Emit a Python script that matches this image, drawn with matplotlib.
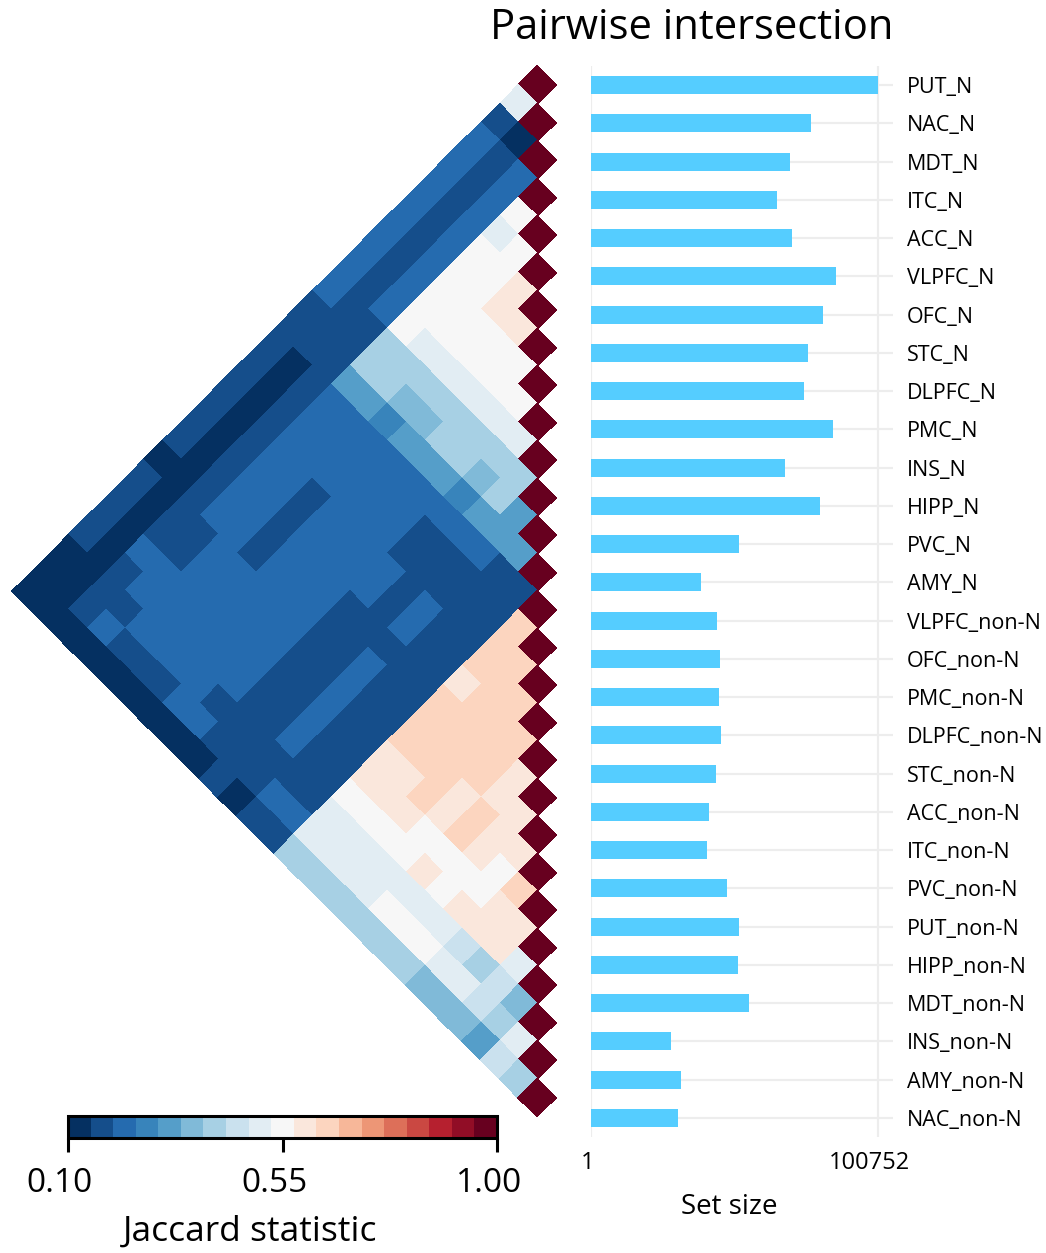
import numpy as np
import matplotlib
matplotlib.use("Agg")
import matplotlib.pyplot as plt
from matplotlib import transforms
from matplotlib.colors import Normalize

plt.rcParams["font.family"] = ["Open Sans", "DejaVu Sans"]

labels = ["PUT_N", "NAC_N", "MDT_N", "ITC_N", "ACC_N", "VLPFC_N", "OFC_N",
          "STC_N", "DLPFC_N", "PMC_N", "INS_N", "HIPP_N", "PVC_N", "AMY_N",
          "VLPFC_non-N", "OFC_non-N", "PMC_non-N", "DLPFC_non-N", "STC_non-N",
          "ACC_non-N", "ITC_non-N", "PVC_non-N", "PUT_non-N", "HIPP_non-N",
          "MDT_non-N", "INS_non-N", "AMY_non-N", "NAC_non-N"]

set_size = [100752, 77230, 69860, 65300, 70560, 86010, 81440, 76180, 74770,
            84950, 68100, 80390, 51960, 38620, 44230, 45290, 45100, 45640,
            43880, 41420, 40720, 47740, 51960, 51600, 55470, 28090, 31590, 30540]

# Jaccard statistic, row i holds the pairs (i, j) for j = i+1 .. 27
jaccard_rows = [
    [0.50, 0.17, 0.22, 0.22, 0.22, 0.22, 0.22, 0.22, 0.22, 0.22, 0.22, 0.17, 0.17,
     0.17, 0.17, 0.17, 0.17, 0.17, 0.17, 0.12, 0.17, 0.17, 0.17, 0.17, 0.12, 0.12, 0.12],
    [0.12] + [0.17] * 11 + [0.12] * 14,
    [0.22] * 8 + [0.17] * 3 +
    [0.17, 0.17, 0.17, 0.17, 0.17, 0.17, 0.17, 0.17, 0.17, 0.22, 0.17, 0.17, 0.17, 0.12],
    [0.55, 0.50, 0.55, 0.55, 0.55, 0.55, 0.55, 0.41, 0.41, 0.31,
     0.22, 0.22, 0.22, 0.22, 0.22, 0.22, 0.22, 0.17, 0.17, 0.22, 0.22, 0.17, 0.22, 0.12],
    [0.55, 0.55, 0.55, 0.55, 0.55, 0.50, 0.41, 0.41, 0.31] + [0.22] * 12 + [0.17, 0.12],
    [0.60, 0.60, 0.55, 0.55, 0.50, 0.41, 0.36, 0.27,
     0.22, 0.22, 0.22, 0.17, 0.17, 0.17, 0.17, 0.22, 0.22, 0.22, 0.22, 0.22, 0.17, 0.12],
    [0.60, 0.55, 0.55, 0.50, 0.41, 0.36, 0.31] + [0.22] * 12 + [0.17, 0.12],
    [0.55, 0.55, 0.50, 0.41, 0.41, 0.31] + [0.22] * 13 + [0.12],
    [0.55, 0.50, 0.41, 0.41, 0.31] + [0.22] * 11 + [0.17, 0.22, 0.12],
    [0.50, 0.41, 0.36, 0.27,
     0.22, 0.17, 0.17, 0.22, 0.22, 0.17, 0.17, 0.17, 0.17, 0.17, 0.17, 0.17, 0.17, 0.12],
    [0.41, 0.41, 0.31, 0.22] + [0.17] * 13,
    [0.31, 0.31,
     0.22, 0.17, 0.17, 0.22, 0.22, 0.17, 0.22, 0.22, 0.22, 0.22, 0.22, 0.17, 0.17, 0.12],
    [0.31] + [0.17] * 12 + [0.22, 0.17],
    [0.17] * 12 + [0.22, 0.17],
    [0.64, 0.64, 0.64, 0.60, 0.64, 0.64, 0.64, 0.60, 0.60, 0.55, 0.50, 0.50, 0.41],
    [0.64, 0.64, 0.64, 0.64, 0.64, 0.64, 0.60, 0.60, 0.55, 0.50, 0.50, 0.41],
    [0.64, 0.64, 0.64, 0.64, 0.64, 0.64, 0.60, 0.55, 0.50, 0.50, 0.41],
    [0.64, 0.64, 0.64, 0.60, 0.60, 0.55, 0.55, 0.50, 0.50, 0.41],
    [0.60, 0.60, 0.64, 0.64, 0.55, 0.60, 0.50, 0.55, 0.41],
    [0.60, 0.60, 0.60, 0.55, 0.55, 0.50, 0.55, 0.41],
    [0.60, 0.55, 0.55, 0.60, 0.50, 0.55, 0.41],
    [0.64, 0.60, 0.60, 0.46, 0.50, 0.36],
    [0.60, 0.60, 0.41, 0.50, 0.36],
    [0.50, 0.46, 0.46, 0.36],
    [0.36, 0.41, 0.31],
    [0.50, 0.46],
    [0.41],
]

n = len(labels)
jac = np.full((n, n), np.nan)
np.fill_diagonal(jac, 1.0)
for i, row in enumerate(jaccard_rows):
    jac[i, i + 1:] = row

W, H = 1046, 1253
fig = plt.figure(figsize=(W / 100, H / 100), dpi=100)

cmap = plt.get_cmap("RdBu_r").resampled(19)
norm = Normalize(vmin=0.1, vmax=1.0)

# heatmap, rotated 45 degrees so the diagonal stands on the right
ax_h = fig.add_axes([0, 1 - 1125 / H, 560 / W, 1065 / H])
a, b = np.meshgrid(np.arange(n + 1), np.arange(n + 1), indexing="ij")
X = (a - b) * 0.5
Y = (a + b) * 0.5
ax_h.pcolormesh(X, Y, np.ma.masked_invalid(jac), cmap=cmap, norm=norm,
                edgecolors="face", linewidth=0.3)
ax_h.set_xlim(-537 / 37.5, 23 / 37.5)
ax_h.set_ylim(28.2333, -0.1667)
ax_h.axis("off")

# colorbar
cax = fig.add_axes([68 / W, 1 - 1138 / H, 429 / W, 22 / H])
cb = fig.colorbar(plt.cm.ScalarMappable(norm=norm, cmap=cmap), cax=cax,
                  orientation="horizontal")
cb.outline.set_linewidth(2.2)
cb.set_ticks([0.1, 0.55, 1.0])
cax.set_xticklabels([])
cax.tick_params(axis="x", length=10, width=2.2, direction="out")
shift = transforms.ScaledTranslation(-8 / 100, 0, fig.dpi_scale_trans)
cb_tr = transforms.blended_transform_factory(cax.transData, fig.transFigure) + shift
for v in [0.1, 0.55, 1.0]:
    cax.text(v, 1 - 1183 / H, f"{v:.2f}", transform=cb_tr, ha="center",
             va="center", fontsize=24)
fig.text(250 / W, 1 - 1232 / H, "Jaccard statistic", ha="center", va="center",
         fontsize=25.5)

# set size bars
ax_b = fig.add_axes([591 / W, 1 - 1137 / H, (893 - 591) / W, (1137 - 66) / H])
ypos = np.arange(n)
ax_b.barh(ypos, set_size, left=0, height=0.47, color="#55cdff", zorder=3)
ax_b.set_xlim(1, 1 + 100751 * (893 - 591) / (878 - 591))
ax_b.set_ylim(n - 0.5, -0.5)
ax_b.set_yticks(ypos)
ax_b.set_yticklabels(labels, fontsize=15.5)
ax_b.yaxis.tick_right()
ax_b.set_xticks([1, max(set_size)])
ax_b.set_xticklabels([])
ax_b.tick_params(length=0)
ax_b.tick_params(axis="y", pad=10)
ax_b.grid(True, color="#ededed", linewidth=1.6, zorder=0)
ax_b.set_axisbelow(True)
for s in ax_b.spines.values():
    s.set_visible(False)

for v, dx in [(1, -3), (max(set_size), -9)]:
    tr = transforms.blended_transform_factory(ax_b.transData, fig.transFigure) + \
        transforms.ScaledTranslation(dx / 100, 0, fig.dpi_scale_trans)
    ax_b.text(v, 1 - 1163 / H, str(v), transform=tr, ha="center", va="center",
              fontsize=17)
fig.text(729 / W, 1 - 1207 / H, "Set size", ha="center", va="center", fontsize=20)

fig.text(692 / W, 1 - 28 / H, "Pairwise intersection", ha="center", va="center",
         fontsize=30)

fig.savefig("out.png", dpi=100)
